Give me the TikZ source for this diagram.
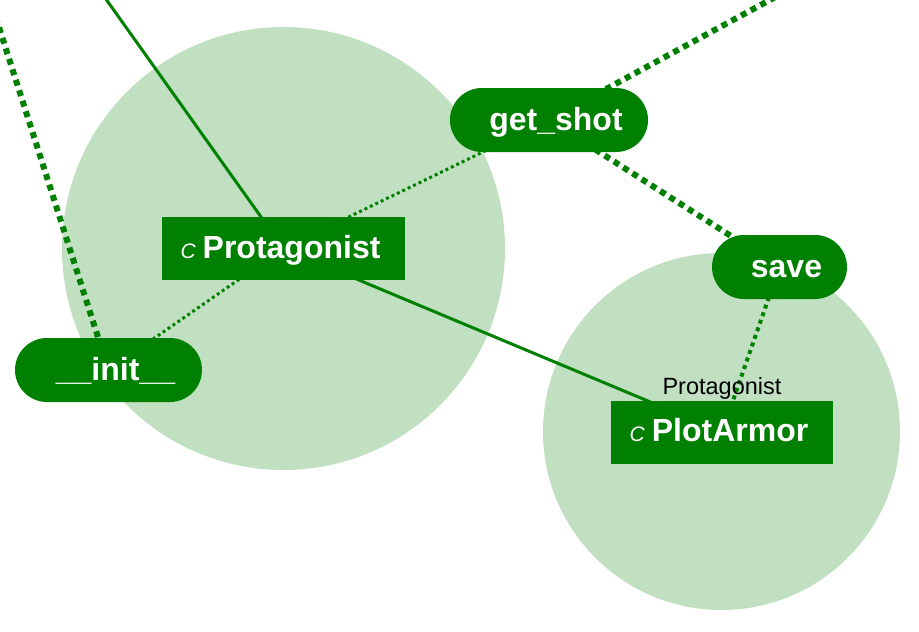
\documentclass[tikz,border=0pt]{standalone}
\usepackage{fontspec}
\setmainfont{Liberation Sans}
\usepackage{tikz}
\usetikzlibrary{positioning, backgrounds}
\definecolor{umlgreen}{RGB}{0,128,0}
\definecolor{clustergreen}{RGB}{193,224,193}
\newcommand{\clsicon}{{\fontsize{21}{24}\selectfont\mdseries\itshape C}\hspace{7pt}}
\newcommand{\pillpad}{\hspace*{14pt}}

\begin{document}
\begin{tikzpicture}[x=1pt, y=-1pt,
      cluster/.style={circle, fill=clustergreen, inner sep=0pt},
      classbox/.style={fill=umlgreen, text=white, inner sep=0pt, minimum height=63pt,
                       text height=25pt, text depth=6pt,
                       font=\fontsize{32}{36}\selectfont\bfseries},
      methpill/.style={fill=umlgreen, text=white, rounded corners=32pt, inner sep=0pt,
                       minimum height=64pt, text height=26pt, text depth=6pt,
                       font=\fontsize{32}{36}\selectfont\bfseries},
      owner/.style={font=\fontsize{23.5}{27}\selectfont, text=black, inner sep=1pt},
      inherit/.style={umlgreen, line width=3pt},
      call/.style={umlgreen, line width=3pt, dash pattern=on 3pt off 3pt},
      callmid/.style={umlgreen, line width=4pt, dash pattern=on 4pt off 4pt},
      ext/.style={umlgreen, line width=6pt, dash pattern=on 6pt off 5pt}
    ]
      \clip (0,0) rectangle (919,632);

      % clusters
      \begin{scope}[on background layer]
        \node[cluster, minimum size=443pt] (protocl) at (283.5,248.5) {};
        \node[cluster, minimum size=357pt] (armorcl) at (721.5,431.5) {};
      \end{scope}

      \node[classbox, minimum width=243pt] (protagonist) at (283.5,248.5) {\clsicon Protagonist\hspace*{6pt}};
      \node[classbox, minimum width=222pt,
            label={[owner]above:Protagonist}] (plotarmor) at (722,432) {\clsicon PlotArmor\hspace*{6pt}};

      \node[methpill, minimum width=198pt] (getshot) at (549,120) {\pillpad get\_shot};
      \node[methpill, minimum width=135pt] (save) at (779.5,267) {\pillpad save};
      \node[methpill, minimum width=187pt] (init) at (108.5,370) {\pillpad \_\_init\_\_};

      % things outside the frame
      \coordinate (upleft) at (71,-50);
      \coordinate (farleft) at (-11,-4);
      \coordinate (upright) at (814,-24);

      \begin{scope}[on background layer]
        \draw[inherit] (upleft) -- (protagonist.center);
        \draw[inherit] (protagonist.center) -- (plotarmor.center);
        \draw[call] (protagonist.center) -- (init.center);
        \draw[call] (protagonist.center) -- (getshot.center);
        \draw[ext] (farleft) -- (init.center);
        \draw[ext] (upright) -- (getshot.center);
        \draw[ext] (getshot.center) -- (save.center);
        \draw[callmid] (save.center) -- (plotarmor.center);
      \end{scope}
    \end{tikzpicture}
\end{document}
